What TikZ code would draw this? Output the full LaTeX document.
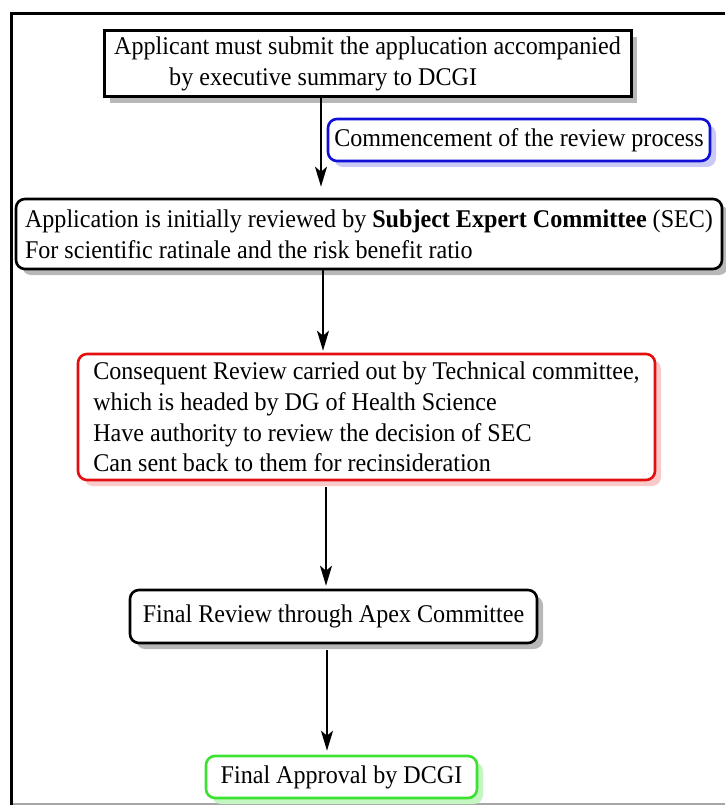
\documentclass[tikz,border=0pt]{standalone}
\usepackage{fontspec}
\setmainfont{Liberation Serif}[FakeStretch=0.945]
\usetikzlibrary{arrows.meta,shadows}
\definecolor{bblue}{RGB}{15,15,215}
\definecolor{rred}{RGB}{225,15,15}
\definecolor{ggreen}{RGB}{60,225,50}
\begin{document}
\begin{tikzpicture}[x=1pt,y=-1pt,
  every node/.style={font=\fontsize{25.5}{30.8}\selectfont, align=left, inner sep=0pt},
  sqbox/.style={draw=black, line width=3pt, fill=white,
    drop shadow={shadow xshift=6pt, shadow yshift=-6pt, fill=black!28, opacity=1}},
  rbox/.style={rounded corners=9pt, fill=white, line width=2.6pt},
  kbox/.style={rbox, draw=black,
    drop shadow={shadow xshift=6pt, shadow yshift=-6pt, fill=black!28, opacity=1}},
  bbox/.style={rbox, draw=bblue,
    drop shadow={shadow xshift=6pt, shadow yshift=-6pt, fill=bblue!22, opacity=1}},
  redbox/.style={rbox, draw=rred,
    drop shadow={shadow xshift=6pt, shadow yshift=-6pt, fill=rred!22, opacity=1}},
  gbox/.style={rbox, draw=ggreen,
    drop shadow={shadow xshift=6pt, shadow yshift=-6pt, fill=ggreen!30, opacity=1}},
  arr/.style={line width=2pt, -{Stealth[length=20pt,width=12pt,inset=5pt]}}
]
\path[use as bounding box] (0,0) rectangle (725,805);
\draw[black!35, line width=1.5pt] (11,804) -- (725,804);
\draw[line width=3pt] (11,805) -- (11,14) -- (725,14);

\node[sqbox, minimum width=527pt, minimum height=66pt] (top) at (367.5,64)
  {Applicant must submit the applucation accompanied\\\hspace*{55pt}by executive summary to DCGI};
\node[bbox, minimum width=382pt, minimum height=42pt] (comm) at (519,140)
  {Commencement of the review process};
\node[kbox, minimum width=706pt, minimum height=70pt] (sec) at (369,234)
  {Application is initially reviewed by \textbf{Subject Expert Committee} (SEC)\\For scientific ratinale and the risk benefit ratio};
\node[redbox, minimum width=577pt, minimum height=126pt] (tech) at (366.5,417)
  {Consequent Review carried out by Technical committee,\\which is headed by DG of Health Science\\Have authority to review the decision of SEC\\Can sent back to them for recinsideration};
\node[kbox, minimum width=407pt, minimum height=53pt] (apex) at (333.5,616.5)
  {Final Review through Apex Committee};
\node[gbox, minimum width=271pt, minimum height=42pt] (final) at (341.5,777)
  {Final Approval by DCGI};

\coordinate (c1) at (321,0);
\coordinate (c2) at (323,0);
\coordinate (c3) at (326,0);
\coordinate (c4) at (327,0);
\draw[arr, shorten >=11pt] (top.south -| c1) -- (sec.north -| c1);
\draw[arr, shorten >=2pt] (sec.south -| c2) -- (tech.north -| c2);
\draw[arr, shorten <=6pt, shorten >=3pt] (tech.south -| c3) -- (apex.north -| c3);
\draw[arr, shorten <=6pt, shorten >=4pt] (apex.south -| c4) -- (final.north -| c4);
\end{tikzpicture}
\end{document}
